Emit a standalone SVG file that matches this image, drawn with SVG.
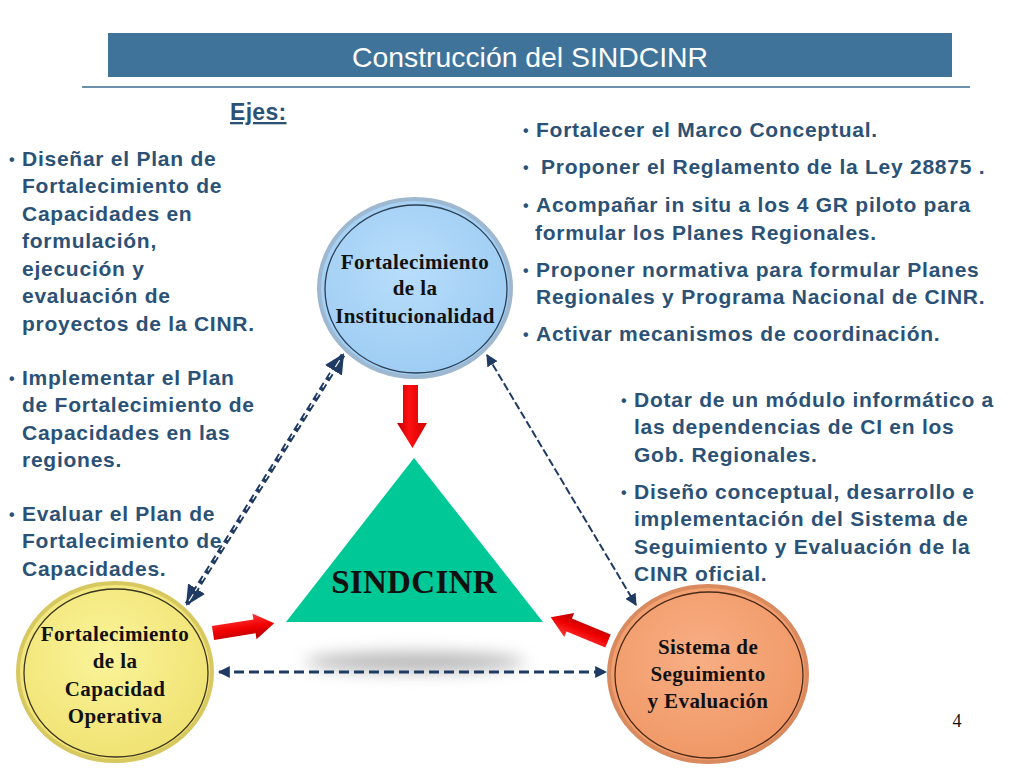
<svg xmlns="http://www.w3.org/2000/svg" width="1024" height="768" viewBox="0 0 1024 768">
<defs>
<style>
.tx{font-family:"Liberation Sans",Arial,sans-serif;font-weight:bold;font-size:21px;letter-spacing:0.75px;fill:#2B5276}
.bl{font-family:"Liberation Sans",Arial,sans-serif;font-weight:bold;font-size:16px;fill:#2B5276}
.nd{font-family:"Liberation Serif","Times New Roman",serif;font-weight:bold;font-size:21px;letter-spacing:0.4px;fill:#111;text-anchor:middle}
.conn{fill:none;stroke:#1F3B63}
</style>
<radialGradient id="gBlue" cx="45%" cy="40%" r="60%"><stop offset="0" stop-color="#B8DDFB"/><stop offset="1" stop-color="#9DCCF3"/></radialGradient>
<radialGradient id="gYel" cx="45%" cy="40%" r="60%"><stop offset="0" stop-color="#FAF49A"/><stop offset="1" stop-color="#F0E272"/></radialGradient>
<radialGradient id="gOr" cx="45%" cy="40%" r="60%"><stop offset="0" stop-color="#F8AE84"/><stop offset="1" stop-color="#F09866"/></radialGradient>
<linearGradient id="gRed" x1="0" y1="0" x2="0" y2="1"><stop offset="0" stop-color="#FF3A3A"/><stop offset="0.5" stop-color="#F00000"/><stop offset="1" stop-color="#B00000"/></linearGradient>
<linearGradient id="gRedV" x1="0" y1="0" x2="1" y2="0"><stop offset="0" stop-color="#C00000"/><stop offset="0.4" stop-color="#FF1010"/><stop offset="1" stop-color="#D00000"/></linearGradient>
<filter id="blur" x="-30%" y="-200%" width="160%" height="500%"><feGaussianBlur stdDeviation="8"/></filter>
<marker id="ah" viewBox="0 0 10 10" refX="9" refY="5" markerWidth="4" markerHeight="4" orient="auto-start-reverse" markerUnits="strokeWidth"><path d="M0,0 L10,5 L0,10 z" fill="#1F3B63"/></marker>
<marker id="ahs" viewBox="0 0 10 10" refX="9" refY="5" markerWidth="6" markerHeight="6" orient="auto-start-reverse" markerUnits="strokeWidth"><path d="M0,0 L10,5 L0,10 z" fill="#1F3B63"/></marker>
</defs>
<rect width="1024" height="768" fill="#FFFFFF"/>

<g id="header">
<rect x="108" y="33" width="844" height="44" fill="#3F739A"/>
<text x="530" y="67" font-family="Liberation Sans,Arial,sans-serif" font-size="28" fill="#FFFFFF" text-anchor="middle" textLength="356" lengthAdjust="spacingAndGlyphs">Construcción del SINDCINR</text>
<line x1="82" y1="87" x2="970" y2="87" stroke="#6A90AE" stroke-width="2"/>
<text x="230" y="120" class="tx" style="font-size:23px;letter-spacing:0.3px" text-decoration="underline">Ejes:</text>
</g>

<g id="shadow"><ellipse cx="415" cy="662" rx="110" ry="10" fill="#9a9a9a" opacity="0.7" filter="url(#blur)"/></g>

<g id="connectors">
<path class="conn" d="M187,604 L343,355" stroke-width="5" stroke-dasharray="8,4" marker-start="url(#ah)" marker-end="url(#ah)"/>
<path d="M189,601 L341,358" fill="none" stroke="#FFFFFF" stroke-width="1.2" stroke-dasharray="8,4"/>
<path class="conn" d="M487,355 L636,605" stroke-width="2" stroke-dasharray="8,3" marker-start="url(#ahs)" marker-end="url(#ahs)"/>
<path class="conn" d="M219,672 L606,672" stroke-width="3" stroke-dasharray="10,5" marker-start="url(#ah)" marker-end="url(#ah)"/>
</g>

<g id="red-arrows">
<path d="M403,385 L418,385 L418,423 L427,423 L412.5,448 L397,423 L403,423 Z" fill="url(#gRedV)"/>
<g transform="translate(213,633) rotate(-9)"><path d="M0,-7 L42,-7 L42,-13 L62,0 L42,13 L42,7 L0,7 Z" fill="url(#gRed)"/></g>
<g transform="translate(608,641) rotate(202.5)"><path d="M0,-7 L42,-7 L42,-13 L62,0 L42,13 L42,7 L0,7 Z" fill="url(#gRed)"/></g>
</g>

<g id="node-sindcinr">
<polygon points="414,458 543,622 286,622" fill="#00C896"/>
<text x="414" y="593" class="nd" style="font-size:33px;letter-spacing:0.3px">SINDCINR</text>
</g>

<g id="node-institucionalidad">
<ellipse cx="415" cy="288" rx="96" ry="89" fill="url(#gBlue)" stroke="#9DB8D0" stroke-width="4"/>
<ellipse cx="416" cy="289" rx="91" ry="84" fill="none" stroke="#2E3F52" stroke-width="1.3"/>
<text x="415" y="269" class="nd">Fortalecimiento</text>
<text x="415" y="295" class="nd">de la</text>
<text x="415" y="323" class="nd">Institucionalidad</text>
</g>

<g id="node-capacidad">
<ellipse cx="115" cy="672" rx="97" ry="89" fill="url(#gYel)" stroke="#D8C860" stroke-width="4"/>
<ellipse cx="116" cy="673" rx="92" ry="84" fill="none" stroke="#3A3520" stroke-width="1.3"/>
<text x="115" y="641" class="nd">Fortalecimiento</text>
<text x="115" y="668" class="nd">de la</text>
<text x="115" y="696" class="nd">Capacidad</text>
<text x="115" y="723" class="nd">Operativa</text>
</g>

<g id="node-seguimiento">
<ellipse cx="708" cy="674" rx="99" ry="88" fill="url(#gOr)" stroke="#D98A5E" stroke-width="4"/>
<ellipse cx="709" cy="675" rx="94" ry="83" fill="none" stroke="#4A2A18" stroke-width="1.3"/>
<text x="708" y="654" class="nd">Sistema de</text>
<text x="708" y="681" class="nd">Seguimiento</text>
<text x="708" y="708" class="nd">y Evaluación</text>
</g>

<g id="text-left">
<text x="9" y="165" class="bl">•</text>
<text x="22" y="166" class="tx">Diseñar el Plan de</text>
<text x="22" y="193" class="tx">Fortalecimiento de</text>
<text x="22" y="221" class="tx">Capacidades en</text>
<text x="22" y="248" class="tx">formulación,</text>
<text x="22" y="276" class="tx">ejecución y</text>
<text x="22" y="303" class="tx">evaluación de</text>
<text x="22" y="331" class="tx">proyectos de la CINR.</text>
<text x="9" y="384" class="bl">•</text>
<text x="22" y="385" class="tx">Implementar el Plan</text>
<text x="22" y="412" class="tx">de Fortalecimiento de</text>
<text x="22" y="440" class="tx">Capacidades en  las</text>
<text x="22" y="467" class="tx">regiones.</text>
<text x="9" y="520" class="bl">•</text>
<text x="22" y="521" class="tx">Evaluar el Plan  de</text>
<text x="22" y="548" class="tx">Fortalecimiento de</text>
<text x="22" y="576" class="tx">Capacidades.</text>
</g>

<g id="text-right-top">
<text x="523" y="136" class="bl">•</text>
<text x="536" y="137" class="tx">Fortalecer el Marco Conceptual.</text>
<text x="523" y="173" class="bl">•</text>
<text x="541" y="174" class="tx">Proponer el Reglamento de la Ley 28875 .</text>
<text x="523" y="211" class="bl">•</text>
<text x="536" y="212" class="tx">Acompañar in situ a los 4 GR piloto para</text>
<text x="535" y="240" class="tx">formular los Planes Regionales.</text>
<text x="523" y="276" class="bl">•</text>
<text x="536" y="277" class="tx">Proponer normativa para formular  Planes</text>
<text x="536" y="304" class="tx">Regionales y Programa Nacional de CINR.</text>
<text x="523" y="340" class="bl">•</text>
<text x="536" y="341" class="tx">Activar  mecanismos de coordinación.</text>
</g>

<g id="text-right-bottom">
<text x="621" y="406" class="bl">•</text>
<text x="634" y="407" class="tx">Dotar de un módulo informático a</text>
<text x="634" y="434" class="tx">las dependencias de CI en los</text>
<text x="634" y="462" class="tx">Gob. Regionales.</text>
<text x="621" y="498" class="bl">•</text>
<text x="634" y="499" class="tx">Diseño conceptual, desarrollo e</text>
<text x="634" y="526" class="tx">implementación del Sistema de</text>
<text x="634" y="554" class="tx">Seguimiento y Evaluación de la</text>
<text x="634" y="581" class="tx">CINR oficial.</text>
</g>

<text x="957" y="727" font-family="Liberation Serif,Times New Roman,serif" font-size="18" fill="#111" text-anchor="middle">4</text>
</svg>
